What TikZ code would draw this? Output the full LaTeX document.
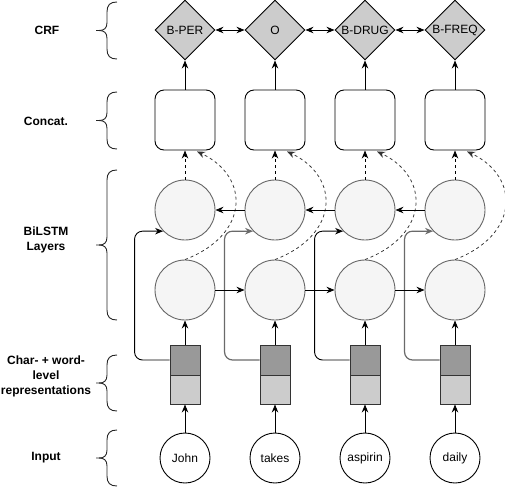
\documentclass[tikz,border=0pt]{standalone}
\usepackage{fontspec}
\setmainfont{Liberation Sans}
\usetikzlibrary{arrows.meta,shapes.geometric,calc}
\definecolor{circfill}{HTML}{F5F5F5}
\definecolor{circline}{HTML}{666666}
\definecolor{dgray}{HTML}{999999}
\definecolor{lgray}{HTML}{CCCCCC}
\definecolor{skipgray}{HTML}{6A6A6A}
\begin{document}
\begin{tikzpicture}[x=1pt,y=-1pt,font=\fontsize{12}{14}\selectfont,
  line width=0.9pt,
  arr/.style={-{Stealth[length=8pt,width=6.5pt]}},
  darr/.style={{Stealth[length=8pt,width=6.5pt]}-{Stealth[length=8pt,width=6.5pt]}},
  crfnode/.style={diamond,draw=black,fill=lgray,minimum width=60pt,minimum height=60pt,inner sep=0pt},
  catnode/.style={rectangle,draw=black,fill=white,rounded corners=9pt,minimum width=60pt,minimum height=60pt},
  lstmnode/.style={circle,draw=circline,fill=circfill,minimum size=60pt,inner sep=0pt},
  reptop/.style={rectangle,draw=black!80,fill=dgray,minimum width=30pt,minimum height=30pt,inner sep=0pt},
  repbot/.style={rectangle,draw=black!80,fill=lgray,minimum width=30pt,minimum height=29pt,inner sep=0pt},
  innode/.style={circle,draw=black,fill=white,minimum size=50pt,inner sep=0pt},
  layerlabel/.style={font=\fontsize{12}{15}\selectfont\bfseries,align=center},
  bracestyle/.style={draw=black!85,line width=0.9pt}
]
\useasboundingbox (0,0) rectangle (505,488);

% labels
\node[layerlabel] (lcrf) at (47,30) {CRF};
\node[layerlabel] (lcat) at (46,121) {Concat.};
\node[layerlabel] (llstm) at (46,240) {BiLSTM\\Layers};
\node[layerlabel] (lrep) at (46,376) {Char- + word-\\level\\representations};
\node[layerlabel] (lin) at (46,458) {Input};

% braces
\foreach \ya/\yb in {2/59, 92/149, 170/320, 355/411, 430/486}{
  \pgfmathsetmacro\ym{(\ya+\yb)/2}
  \draw[bracestyle] (117,\ya) .. controls (110,\ya) and (107,\ya+3) .. (107,\ya+10)
     -- (107,\ym-8) .. controls (107,\ym-2) and (104,\ym) .. (99,\ym) -- (96,\ym);
  \draw[bracestyle] (99,\ym) .. controls (104,\ym) and (107,\ym+2) .. (107,\ym+8)
     -- (107,\yb-10) .. controls (107,\yb-3) and (110,\yb) .. (117,\yb);
}

% columns
\foreach \k/\x/\lab/\word in {1/185/B-PER/John, 2/275/O/takes, 3/365/B-DRUG/aspirin, 4/455/B-FREQ/daily}{
  \node[crfnode] (d\k) at (\x,30) {\lab};
  \node[catnode] (c\k) at (\x,120) {};
  \node[lstmnode] (u\k) at (\x,210) {};
  \node[lstmnode] (l\k) at (\x,290) {};
  \node[reptop] (r\k) at (\x,360) {};
  \node[repbot] (s\k) at (\x,389.5) {};
  \node[innode] (i\k) at (\x,458) {\word};
  \coordinate (e\k) at ($(c\k.south)+(12,1)$);
}

% vertical connectors
\foreach \k in {1,2,3,4}{
  \draw[arr] (c\k.north) -- (d\k.south);
  \draw[arr,dash pattern=on 3pt off 3pt] (u\k.north) -- (c\k.south);
  \coordinate (pa\k) at ($(l\k.north)+(65,-25)$);
  \coordinate (pb\k) at ($(e\k)+(53,25)$);
  \draw[arr,black!80,line width=0.75pt,dash pattern=on 3pt off 3pt] (l\k.north) .. controls (pa\k) and (pb\k) .. (e\k);
  \draw[arr] (r\k.north) -- (l\k.south);
  \draw[arr] (i\k.north) -- (s\k.south);
}

% skip connections
\foreach \k/\col/\lw in {1/black/0.9pt,2/skipgray/1.2pt,3/black/0.9pt,4/skipgray/1.2pt}{
  \draw[arr,\col,line width=\lw,rounded corners=8pt] (r\k.west) -- ++(-35,0) |- (u\k.224.4);
}

% horizontal connectors
\foreach \k/\n in {1/2,2/3,3/4}{
  \draw[darr] (d\k.east) -- (d\n.west);
  \draw[arr] (u\n.west) -- (u\k.east);
  \draw[arr] (l\k.east) -- (l\n.west);
}
\end{tikzpicture}
\end{document}
